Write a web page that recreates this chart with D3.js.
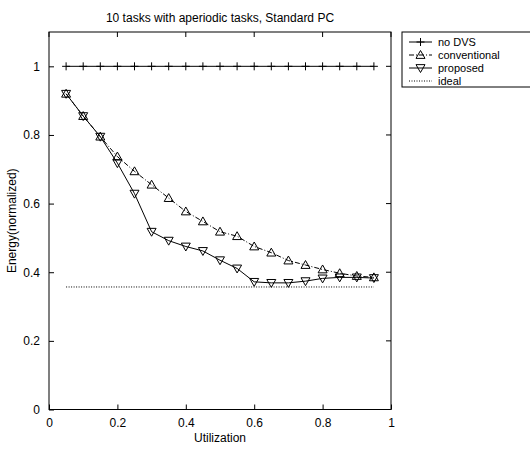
<!DOCTYPE html>
<html><head><meta charset="utf-8">
<script src="https://cdn.jsdelivr.net/npm/d3@7"></script>
<style>
body{margin:0;background:#fff;}
text{font-family:"Liberation Sans",Arial,sans-serif;fill:#000;}
</style></head>
<body><svg id="c" width="530" height="451"></svg>
<script>
const utilization = [0.05,0.1,0.15,0.2,0.25,0.3,0.35,0.4,0.45,0.5,0.55,0.6,0.65,0.7,0.75,0.8,0.85,0.9,0.95];
const noDVS = [1,1,1,1,1,1,1,1,1,1,1,1,1,1,1,1,1,1,1];
const conventional = [0.92,0.855,0.795,0.737,0.694,0.655,0.616,0.577,0.548,0.518,0.505,0.475,0.457,0.434,0.421,0.408,0.397,0.389,0.385];
const proposed = [0.92,0.855,0.795,0.718,0.629,0.518,0.492,0.475,0.462,0.435,0.411,0.372,0.369,0.369,0.374,0.382,0.385,0.385,0.383];
const ideal = [0.357,0.357];
const idealX = [0.05,0.95];
const xTicks = [0,0.2,0.4,0.6,0.8,1];
const yTicks = [0,0.2,0.4,0.6,0.8,1];
const legendLabels = ["no DVS","conventional","proposed","ideal"];

const svg = d3.select("#c");
const L=49,R=391,T=32,B=409.5;
const x = d3.scaleLinear().domain([0,1]).range([L,R]);
const y = d3.scaleLinear().domain([0,1.1]).range([B,T]);

svg.append("rect").attr("x",L).attr("y",T).attr("width",R-L).attr("height",B-T)
  .attr("fill","none").attr("stroke","#000").attr("stroke-width",1);

const fmt = d=>d===0||d===1?d3.format("d")(d):d3.format(".1f")(d);
const ax = d3.axisBottom(x).tickValues(xTicks).tickSize(-5).tickPadding(9).tickFormat(fmt);
const gx = svg.append("g").attr("transform",`translate(0,${B})`).call(ax);
const ay = d3.axisLeft(y).tickValues(yTicks).tickSize(-5).tickPadding(9).tickFormat(fmt);
const gy = svg.append("g").attr("transform",`translate(${L},0)`).call(ay);
[gx,gy].forEach(g=>{g.select(".domain").remove();g.selectAll("line").attr("stroke","#000");g.selectAll("text").attr("font-size",12).attr("font-family","Liberation Sans, Arial, sans-serif");});
svg.append("g").selectAll("line").data(xTicks).join("line")
  .attr("x1",d=>x(d)).attr("x2",d=>x(d)).attr("y1",T).attr("y2",T+5).attr("stroke","#000");
svg.append("g").selectAll("line").data(yTicks).join("line")
  .attr("x1",R).attr("x2",R-5).attr("y1",d=>y(d)).attr("y2",d=>y(d)).attr("stroke","#000");

svg.append("text").attr("x",(L+R)/2).attr("y",22).attr("text-anchor","middle").attr("font-size",12).text("10 tasks with aperiodic tasks, Standard PC");
svg.append("text").attr("x",(L+R)/2).attr("y",442).attr("text-anchor","middle").attr("font-size",12).text("Utilization");
svg.append("text").attr("transform",`translate(16,${(T+B)/2}) rotate(-90)`).attr("text-anchor","middle").attr("font-size",12).text("Energy(normalized)");

const line = d3.line().x(d=>x(d[0])).y(d=>y(d[1]));
const zip = (a,b)=>a.map((v,i)=>[v,b[i]]);

function triUp(cx,cy,s){return `M${cx},${cy-s}L${cx+s},${cy+s*0.75}L${cx-s},${cy+s*0.75}Z`;}
function triDown(cx,cy,s){return `M${cx},${cy+s}L${cx+s},${cy-s*0.75}L${cx-s},${cy-s*0.75}Z`;}
function plus(cx,cy,s){return `M${cx-s},${cy}L${cx+s},${cy}M${cx},${cy-s}L${cx},${cy+s}`;}

svg.append("path").attr("d",line(zip(idealX,ideal))).attr("fill","none").attr("stroke","#000").attr("stroke-width",1).attr("stroke-dasharray","1,1.5");
const nd = zip(utilization,noDVS);
svg.append("path").attr("d",line(nd)).attr("fill","none").attr("stroke","#000").attr("stroke-width",1);
svg.append("g").selectAll("path").data(nd).join("path").attr("d",d=>plus(x(d[0]),y(d[1]),4)).attr("stroke","#000").attr("fill","none");
const cv = zip(utilization,conventional);
svg.append("path").attr("d",line(cv)).attr("fill","none").attr("stroke","#000").attr("stroke-width",1).attr("stroke-dasharray","5,2,1,2");
svg.append("g").selectAll("path").data(cv).join("path").attr("d",d=>triUp(x(d[0]),y(d[1]),4.5)).attr("stroke","#000").attr("fill","none");
const pr = zip(utilization,proposed);
svg.append("path").attr("d",line(pr)).attr("fill","none").attr("stroke","#000").attr("stroke-width",1);
svg.append("g").selectAll("path").data(pr).join("path").attr("d",d=>triDown(x(d[0]),y(d[1]),4.5)).attr("stroke","#000").attr("fill","none");

const lg = svg.append("g");
lg.append("rect").attr("x",402).attr("y",32).attr("width",135).attr("height",55).attr("fill","#fff").attr("stroke","#000");
const rowY = [42,55,68,81];
legendLabels.forEach((lab,i)=>{
  const ry=rowY[i];
  const ln = lg.append("line").attr("x1",409).attr("x2",432).attr("y1",ry).attr("y2",ry).attr("stroke","#000");
  if(i===1) ln.attr("stroke-dasharray","5,2,1,2");
  if(i===3) ln.attr("stroke-dasharray","1,1.5");
  if(i===0) lg.append("path").attr("d",plus(420.5,ry,4)).attr("stroke","#000");
  if(i===1) lg.append("path").attr("d",triUp(420.5,ry,4.5)).attr("stroke","#000").attr("fill","none");
  if(i===2) lg.append("path").attr("d",triDown(420.5,ry,4.5)).attr("stroke","#000").attr("fill","none");
  lg.append("text").attr("x",438).attr("y",ry+4).attr("font-size",11).text(lab);
});
</script></body></html>
